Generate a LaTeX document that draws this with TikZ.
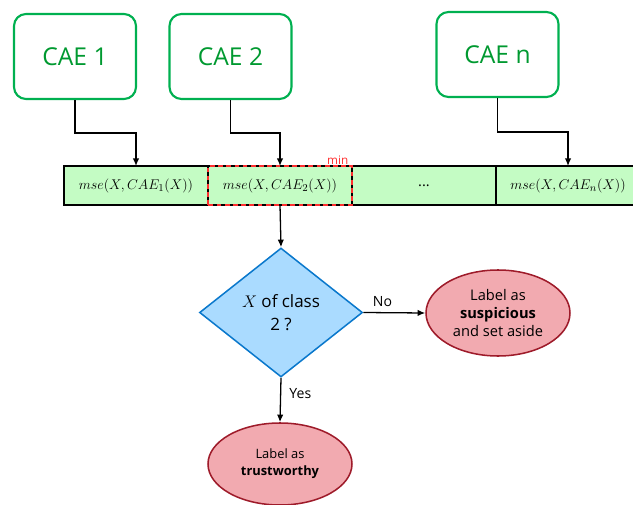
\documentclass[tikz,border=0pt]{standalone}
\usepackage{fontspec}
\setmainfont{Open Sans}
\usepackage{amsmath}
\usepackage{tikz}
\usetikzlibrary{positioning,calc,shapes.geometric}
\usetikzlibrary{arrows.meta}
\definecolor{caegreen}{HTML}{00B050}
\definecolor{caetext}{HTML}{009930}
\definecolor{cellgreen}{HTML}{C4FCC4}
\definecolor{qblue}{HTML}{AADBFF}
\definecolor{qedge}{HTML}{0A78CC}
\definecolor{lblpink}{HTML}{F2AAB0}
\definecolor{lbledge}{HTML}{9E1B2A}
\definecolor{minred}{HTML}{FF3030}

\begin{document}
\begin{tikzpicture}[x=0.03cm,y=-0.03cm,every node/.style={inner sep=0pt},
        caebox/.style={rectangle,rounded corners=0.36cm,draw=caegreen,line width=1.8pt,minimum width=3.66cm,minimum height=2.55cm,text=caetext,font=\fontsize{21}{25}\selectfont},
        cell/.style={rectangle,draw,line width=1.2pt,fill=cellgreen,outer sep=0pt,minimum width=4.32cm,minimum height=1.17cm,font=\fontsize{12.5}{14}\selectfont},
        arr/.style={draw,line width=1.1pt,-{Latex[length=6.5pt,width=5.5pt]}},
        lbl/.style={ellipse,draw=lbledge,line width=1.3pt,fill=lblpink,minimum width=4.32cm,align=center}]
    \useasboundingbox (0,0) rectangle (633,505);
    % encoders
    \node[caebox] (cae1) at (75,56.5) {CAE 1};
    \node[caebox] (cae2) at (230.5,56.5) {CAE 2};
    \node[caebox] (caen) at (497.5,54.5) {CAE n};
    % row of errors
    \node[cell] (c1) at (136,185.5) {$mse(X,CAE_1(X))$};
    \node[cell,right=0cm of c1] (c2) {$mse(X,CAE_2(X))$};
    \node[cell,right=0cm of c2] (c3) {...};
    \node[cell,right=0cm of c3] (cn) {$mse(X,CAE_n(X))$};
    \draw[minred,dashed,line width=1.2pt,dash pattern=on 4pt off 3pt] (c2.south west) rectangle (c2.north east);
    \node[text=minred,font=\fontsize{10}{11}\selectfont,above left=1.5pt and 3pt of c2.north east] (minlbl) {min};
    \draw[arr] (cae1.south) |- ($(cae1.south)!.5!(c1.north)$) -| (c1.north);
    \draw[arr] (cae2.south) |- ($(cae2.south)!.5!(c2.north)$) -| (c2.north);
    \draw[arr] (caen.south) |- ($(caen.south)!.5!(cn.north)$) -| (cn.north);
    % decision
    \node[diamond,draw=qedge,line width=1.3pt,fill=qblue,minimum width=4.89cm,minimum height=3.87cm,align=center,font=\fontsize{14.5}{20}\selectfont] (q) at (281,312.5) {$X$ of class\\2 ?};
    \draw[arr] (c2.south) -- (q.north);
    \node[lbl,minimum height=2.58cm,font=\fontsize{12.5}{15.5}\selectfont] (sus) at (498,313) {Label as\\\textbf{suspicious}\\and set aside};
    \node[lbl,minimum height=2.46cm,font=\fontsize{11}{14.5}\selectfont] (trust) at (280,464) {Label as\\\textbf{trustworthy}};
    \draw[arr] (q.east) -- node[pos=.31,above=5pt,font=\fontsize{12}{14}\selectfont] (no) {No} (sus.west);
    \draw[arr] (q.south) -- node[pos=.35,right=7pt,font=\fontsize{12}{14}\selectfont] (yes) {Yes} (trust.north);
\end{tikzpicture}
\end{document}
